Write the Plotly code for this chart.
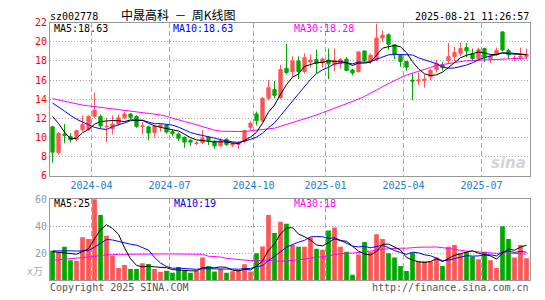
import plotly.graph_objects as go
import pandas as pd

# ---------------- data (weekly bars, 2024-02-05 .. 2025-08-18) ----------------
opens = [11.1, 8.4, 10.35, 10.1, 9.8, 10.8, 10.8, 12.2, 12.2, 11.1,
         10.9, 11.4, 12.05, 12.45, 12.2, 11.15, 11.1, 10.5, 11.1, 11.3,
         10.6, 10.35, 10.0, 9.7, 9.35, 9.45, 10.0, 9.6, 9.15, 9.8,
         9.2, 9.25, 9.55, 11.05, 12.45, 11.75, 14.1, 15.0, 14.15, 17.25,
         16.9, 18.0, 16.9, 17.9, 18.15, 17.8, 18.1, 17.6, 17.75, 18.2,
         17.05, 16.9, 19.05, 18.0, 18.1, 20.4, 20.75, 19.7, 18.6, 17.95,
         16.0, 15.9, 15.95, 16.35, 17.1, 17.55, 18.05, 18.45, 18.8, 19.4,
         18.75, 18.25, 19.3, 18.25, 18.65, 21.05, 19.1, 18.25, 18.4, 18.45]
highs = [11.2, 10.55, 11.4, 10.45, 10.8, 12.3, 12.3, 14.7, 12.4, 12.0,
         12.3, 12.4, 12.7, 12.5, 12.3, 11.6, 11.2, 11.3, 11.35, 11.35,
         10.8, 10.5, 10.1, 9.8, 9.6, 10.8, 10.1, 9.7, 9.9, 9.9,
         9.5, 9.6, 10.8, 11.7, 12.7, 14.2, 16.0, 15.9, 17.6, 19.8,
         18.5, 18.5, 18.8, 18.7, 19.2, 18.4, 19.3, 19.3, 18.3, 18.4,
         17.2, 19.0, 19.1, 18.8, 21.9, 21.2, 20.9, 19.8, 18.7, 18.0,
         16.7, 16.8, 16.6, 17.2, 18.1, 17.9, 19.9, 19.5, 19.9, 19.9,
         19.3, 19.4, 19.4, 18.7, 19.4, 21.1, 19.3, 18.6, 19.4, 19.3]
lows = [7.35, 8.2, 9.4, 9.45, 9.6, 10.6, 10.7, 12.0, 10.95, 9.5,
        10.3, 11.2, 11.9, 11.9, 11.0, 10.3, 9.7, 10.0, 10.6, 10.4,
        10.1, 9.6, 8.9, 9.1, 9.2, 9.3, 9.2, 8.8, 9.0, 9.1,
        9.0, 8.8, 9.4, 10.8, 11.25, 11.6, 13.9, 14.1, 14.0, 16.6,
        16.3, 16.1, 16.7, 17.3, 16.7, 17.3, 16.1, 16.9, 17.2, 16.9,
        16.5, 16.8, 17.9, 17.7, 18.0, 20.0, 19.2, 18.2, 17.4, 17.0,
        13.9, 15.5, 15.2, 16.0, 16.8, 17.0, 17.8, 18.0, 18.5, 18.4,
        18.0, 18.1, 17.9, 17.8, 18.5, 19.0, 18.2, 18.0, 18.1, 18.2]
closes = [8.45, 10.4, 10.2, 9.75, 10.7, 11.35, 12.2, 12.85, 11.2, 11.15,
          11.4, 12.05, 12.45, 12.1, 11.15, 11.2, 10.45, 11.15, 11.3, 10.55,
          10.4, 9.9, 9.5, 9.5, 9.4, 9.9, 9.65, 9.1, 9.65, 9.25,
          9.35, 9.4, 10.7, 11.45, 11.75, 14.1, 15.2, 14.4, 17.1, 16.8,
          18.0, 16.9, 18.35, 18.1, 17.75, 18.2, 17.7, 18.05, 18.15, 17.0,
          16.75, 18.95, 18.05, 18.6, 20.4, 20.7, 19.75, 18.65, 17.95, 17.35,
          15.9, 16.0, 16.1, 17.0, 17.75, 17.3, 18.45, 18.9, 19.3, 19.05,
          18.25, 19.2, 18.35, 18.55, 19.1, 19.15, 18.65, 18.3, 18.5, 18.7]
volumes = [21.9, 20.7, 24.8, 14.8, 14.3, 31.9, 30.5, 62.0, 48.3, 32.9,
           18.3, 9.0, 11.2, 8.3, 8.3, 12.6, 12.1, 8.3, 6.2, 7.1,
           5.5, 9.8, 6.9, 5.5, 7.1, 16.9, 10.5, 6.4, 8.3, 5.5,
           6.7, 7.6, 11.9, 6.4, 20.0, 25.0, 48.3, 35.0, 43.3, 41.9,
           26.2, 24.8, 24.8, 31.7, 23.3, 22.6, 36.9, 39.0, 24.8, 21.2,
           4.0, 19.0, 28.3, 21.2, 34.0, 30.5, 20.0, 16.9, 10.5, 6.9,
           20.5, 14.0, 14.0, 14.0, 16.9, 10.5, 24.8, 26.2, 19.8, 21.2,
           17.6, 15.5, 21.2, 14.8, 9.0, 40.0, 30.5, 16.9, 26.2, 16.2]

# moving-average values for bars whose window starts before the view
ma5_head = [12.2, 11.45, 10.55, 9.85]
ma10_head = [13.6, 13.2, 12.75, 12.3, 11.9, 11.6, 11.3, 11.05, 10.9]
ma30_head = [14.05, 13.9, 13.75, 13.6, 13.45, 13.38, 13.3, 13.22, 13.15, 13.08,
             13.0, 12.92, 12.85, 12.78, 12.7, 12.63, 12.56, 12.45, 12.35, 12.2,
             12.0, 11.85, 11.65, 11.5, 11.3, 11.13, 10.95, 10.75, 10.65]
vma5_head = [21.2, 20.6, 20.0, 19.5]
vma10_head = [21.7, 21.8, 22.0, 21.8, 21.6, 21.6, 22.0, 24.5, 27.5]
vma30_head = [14.8, 15.2, 15.6, 16.0, 16.3, 16.7, 17.1, 17.6, 18.5, 19.0,
              19.0, 19.2, 19.3, 19.3, 19.4, 19.4, 19.4, 19.5, 19.5, 19.5,
              19.5, 19.5, 19.5, 19.5, 19.4, 19.2, 17.8, 17.5, 17.2]

month_labels = ["2024-04", "2024-07", "2024-10", "2025-01", "2025-04", "2025-07"]
month_first_bar = [7, 20, 34, 46, 59, 72]
price_ticks = [6, 8, 10, 12, 14, 16, 18, 20, 22]
vol_ticks = [20, 40, 60]

header_code = "sz002778"
header_title = "中晟高科&nbsp; － &nbsp;周K线图"
header_time = "2025-08-21 11:26:57"
price_ma_text = ["MA5:18.63", "MA10:18.63", "MA30:18.28"]
vol_ma_text = ["MA5:25", "MA10:19", "MA30:18"]

# ---------------- derived ----------------
idx = list(range(len(closes)))


def moving_avg(values, n, head):
    roll = pd.Series(values).rolling(n).mean().tolist()
    return list(head) + roll[len(head):]


ma5 = moving_avg(closes, 5, ma5_head)
ma10 = moving_avg(closes, 10, ma10_head)
ma30 = moving_avg(closes, 30, ma30_head)
vma5 = moving_avg(volumes, 5, vma5_head)
vma10 = moving_avg(volumes, 10, vma10_head)
vma30 = moving_avg(volumes, 30, vma30_head)

RED = "#ff5555"
GREEN = "#00a800"
vol_colors = [RED if c >= o else GREEN for o, c in zip(opens, closes)]

W, H = 545, 300
MONO = "DejaVu Sans Mono"
CJK = "Noto Sans CJK SC"


def px(x):
    return x / W


def py(y):
    return 1 - y / H


fig = go.Figure()
fig.add_trace(go.Candlestick(
    x=idx, open=opens, high=highs, low=lows, close=closes,
    xaxis="x", yaxis="y",
    increasing=dict(line=dict(color=RED, width=1), fillcolor=RED),
    decreasing=dict(line=dict(color=GREEN, width=1), fillcolor=GREEN),
    whiskerwidth=0, showlegend=False, hoverinfo="skip"))
for ys, col in [(ma30, "#ff00ff"), (ma10, "#0000ff"), (ma5, "#000000")]:
    fig.add_trace(go.Scatter(x=idx, y=ys, mode="lines", xaxis="x", yaxis="y",
                             line=dict(color=col, width=1), showlegend=False,
                             hoverinfo="skip"))

fig.add_trace(go.Bar(x=idx, y=volumes, xaxis="x2", yaxis="y2",
                     marker=dict(color=vol_colors, line=dict(width=0)),
                     width=0.78, showlegend=False, hoverinfo="skip"))
for ys, col in [(vma30, "#ff00ff"), (vma10, "#0000ff"), (vma5, "#000000")]:
    fig.add_trace(go.Scatter(x=idx, y=ys, mode="lines", xaxis="x2", yaxis="y2",
                             line=dict(color=col, width=1), showlegend=False,
                             hoverinfo="skip"))

x_dom = [px(50), px(529.5)]
x_range = [-0.42, len(closes) - 0.5]
grid_x = [b - 0.5 for b in month_first_bar]
common_x = dict(range=x_range, domain=x_dom, showgrid=True, gridcolor="#aaaaaa",
                griddash="5px,3px", gridwidth=1, showline=True, mirror=True,
                linecolor="#999999", linewidth=1, zeroline=False, ticks="",
                tickvals=grid_x, fixedrange=True)

fig.update_layout(
    width=W, height=H, margin=dict(l=0, r=0, t=0, b=0),
    paper_bgcolor="white", plot_bgcolor="white",
    boxgap=0.22,
    font=dict(family=MONO, size=10),
    xaxis=dict(**common_x, anchor="y", ticktext=month_labels,
               tickfont=dict(color="#1a7ccc", size=10, family=MONO),
               rangeslider=dict(visible=False)),
    yaxis=dict(domain=[py(177), py(18.5)], range=[6, 22], tickvals=price_ticks,
               tickfont=dict(color="#ff0000", size=10, family=MONO),
               showgrid=True, gridcolor="#aaaaaa", griddash="1px,2px",
               showline=True, mirror=True, linecolor="#999999", linewidth=1,
               zeroline=False, ticks="", anchor="x", fixedrange=True),
    xaxis2=dict(**common_x, anchor="y2", showticklabels=False),
    yaxis2=dict(domain=[py(285.7), py(201.7)], range=[0, 60], tickvals=vol_ticks,
                tickfont=dict(color="#999999", size=10, family=MONO),
                showgrid=True, gridcolor="#aaaaaa", griddash="1px,2px",
                showline=True, mirror=True, linecolor="#999999", linewidth=1,
                zeroline=False, ticks="", anchor="x2", fixedrange=True),
)

ann = []


def add_text(text, x, y, color="#000000", size=10, family=MONO, xanchor="left", **kw):
    ann.append(dict(text=text, x=px(x), y=py(y), xref="paper", yref="paper",
                    xanchor=xanchor, yanchor="middle", showarrow=False,
                    borderpad=0, font=dict(color=color, size=size, family=family), **kw))


add_text(header_code, 49, 11.5)
add_text(header_title, 120, 10, size=12, family=CJK + ", " + MONO)
add_text(header_time, 530, 12, xanchor="right")
ma_cols = ["#000000", "#0000ff", "#ff00ff"]
for t, xx, c in zip(price_ma_text, [53, 172, 293], ma_cols):
    add_text(t, xx, 24, color=c)
for t, xx, c in zip(vol_ma_text, [53, 173, 293], ma_cols):
    add_text(t, xx, 206, color=c)
add_text("x万", 44, 277, color="#aaaaaa", xanchor="right", family=MONO + ", " + CJK)
add_text("Copyright 2025 SINA.COM", 49, 293, color="#555555")
add_text("http://finance.sina.com.cn", 530, 293, color="#555555", xanchor="right")
add_text("<i><b>sina</b></i>", 527, 164, color="#d4d4d4", size=15,
         family="DejaVu Sans", xanchor="right")
fig.update_layout(annotations=ann)

fig.write_html("out.html")
